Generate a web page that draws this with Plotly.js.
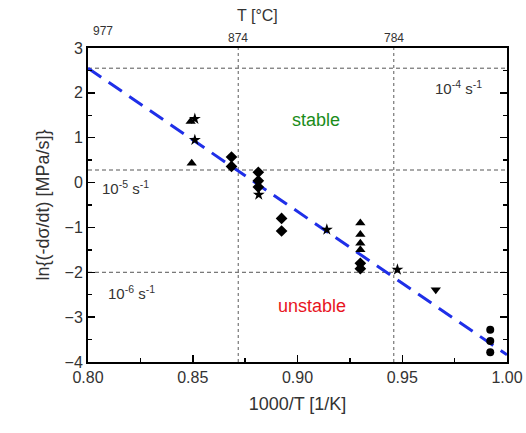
<!DOCTYPE html>
<html><head><meta charset="utf-8">
<script src="https://cdn.plot.ly/plotly-3.0.1.min.js"></script>
<style>body{margin:0;background:#fff}#c{width:526px;height:433px}</style>
</head><body><div id="c"></div>
<script>
// Data
const triUpX = [0.849, 0.8495, 0.930, 0.930, 0.930, 0.930];
const triUpY = [1.36, 0.43, -0.90, -1.16, -1.35, -1.50];
const starX = [0.851, 0.851, 0.8815, 0.914, 0.9477];
const starY = [1.42, 0.95, -0.27, -1.05, -1.94];
const diaX = [0.8685, 0.8685, 0.8813, 0.8813, 0.8813, 0.8924, 0.8924, 0.930, 0.930];
const diaY = [0.57, 0.36, 0.23, 0.04, -0.10, -0.80, -1.08, -1.80, -1.92];
const triDnX = [0.966];
const triDnY = [-2.39];
const circX = [0.992, 0.992, 0.992];
const circY = [-3.28, -3.53, -3.78];
const fitX = [0.80, 1.00];
const fitY = [2.55, -3.84];
const rateLevels = [2.55, 0.28, -2.0];
const rateLabels = ['10<sup>-4</sup> s<sup>-1</sup>', '10<sup>-5</sup> s<sup>-1</sup>', '10<sup>-6</sup> s<sup>-1</sup>'];
const rateLabelX = [0.977, 0.818, 0.821];
const rateLabelY = [2.12, -0.12, -2.46];
const tempC = [977, 874, 784];
const tempX = tempC.map(t => 1000 / (t + 273.15));
const guideTemps = [874, 784];

const mk = (sym, size) => ({symbol: sym, size: size, color: '#000', line: {width: 0}});
const traces = [
  {x: fitX, y: fitY, mode: 'lines', line: {color: '#1f2fe8', width: 3, dash: '16px,9px'}, hoverinfo: 'skip'},
  {x: triUpX, y: triUpY, mode: 'markers', marker: mk('triangle-up', 9)},
  {x: starX, y: starY, mode: 'markers', marker: mk('star', 9)},
  {x: diaX, y: diaY, mode: 'markers', marker: mk('diamond', 9)},
  {x: triDnX, y: triDnY, mode: 'markers', marker: mk('triangle-down', 9)},
  {x: circX, y: circY, mode: 'markers', marker: mk('circle', 8)}
];

const shapes = [];
rateLevels.forEach(v => shapes.push({type: 'line', xref: 'x domain', x0: 0, x1: 1, yref: 'y', y0: v, y1: v,
  line: {color: '#555', width: 1, dash: '4px,3px'}, layer: 'below'}));
guideTemps.forEach(t => { const xv = 1000 / (t + 273.15);
  shapes.push({type: 'line', xref: 'x', x0: xv, x1: xv, yref: 'y domain', y0: 0, y1: 1,
  line: {color: '#777', width: 1.2, dash: 'dot'}, layer: 'below'}); });

const annotations = rateLabels.map((t, i) => ({x: rateLabelX[i], y: rateLabelY[i], text: t, showarrow: false,
  font: {size: 15, color: '#333'}}));
annotations.push({x: 0.909, y: 1.40, text: 'stable', showarrow: false, font: {size: 18, color: '#1a8c1a'}});
annotations.push({x: 0.907, y: -2.75, text: 'unstable', showarrow: false, font: {size: 18, color: '#e8141e'}});
// top temperature axis labels
tempC.forEach((t, i) => annotations.push({x: Math.max(tempX[i], 0.8), xref: 'x', y: 1, yref: 'paper',
  yanchor: 'bottom', text: String(t), showarrow: false, font: {size: 12, color: '#333'},
  xshift: i === 0 ? 15 : 0, yshift: i === 0 ? 8 : 1}));
annotations.push({x: 0.405, xref: 'paper', y: 1, yref: 'paper', yanchor: 'bottom', yshift: 22,
  text: 'T [°C]', showarrow: false, font: {size: 16, color: '#333'}});

const layout = {
  width: 526, height: 433,
  margin: {l: 88, r: 19, t: 48, b: 71},
  showlegend: false,
  paper_bgcolor: '#fff', plot_bgcolor: '#fff',
  font: {family: 'Liberation Sans, Arial, sans-serif', color: '#333'},
  xaxis: {range: [0.8, 1.0], tickvals: [0.80, 0.85, 0.90, 0.95, 1.00], ticktext: ['0.80','0.85','0.90','0.95','1.00'],
    ticks: 'inside', ticklen: 7, tickwidth: 1.5, tickcolor: '#000',
    minor: {dtick: 0.025, ticks: 'inside', ticklen: 4, tickcolor: '#000', tickwidth: 1.5, showgrid: false},
    showline: true, linecolor: '#000', linewidth: 2, mirror: true, showgrid: false, zeroline: false,
    tickfont: {size: 16}, title: {text: '1000/T [1/K]', font: {size: 18}, standoff: 12}},
  yaxis: {range: [-4, 3], dtick: 1, ticks: 'inside', ticklen: 7, tickwidth: 1.5, tickcolor: '#000',
    minor: {dtick: 0.5, ticks: 'inside', ticklen: 4, tickcolor: '#000', tickwidth: 1.5, showgrid: false},
    showline: true, linecolor: '#000', linewidth: 2, mirror: 'ticks', showgrid: false, zeroline: false,
    tickfont: {size: 16}, title: {text: 'ln{(-dσ/dt) [MPa/s]}', font: {size: 18}, standoff: 10}},
  shapes: shapes,
  annotations: annotations
};
Plotly.newPlot('c', traces, layout, {staticPlot: true});
</script></body></html>
